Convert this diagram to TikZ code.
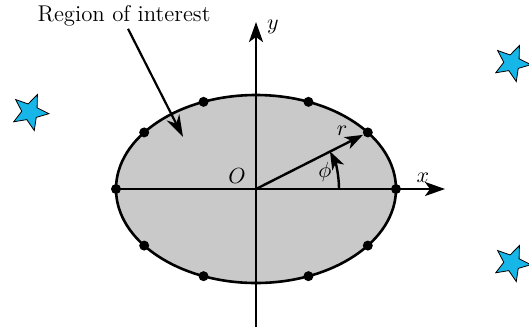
\documentclass[tikz,border=0pt]{standalone}
\usepackage{tikz}
\usetikzlibrary{arrows.meta,positioning,calc,shapes.geometric}
\usepackage{amsmath}
\definecolor{roiGray}{RGB}{200,201,200}
\definecolor{starCyan}{RGB}{22,182,232}
\tikzset{
  %% Region and axes
  roiFill/.style={draw=black, fill=roiGray, line width=1.3pt},
  axisLine/.style={-{Stealth[length=10pt,width=7pt,inset=2.5pt]}, line width=1.3pt},
  %% Vectors and pointers
  vecArr/.style={-{Stealth[length=9pt,width=6.5pt,inset=2.5pt]}, line width=1.2pt},
  ptrArr/.style={-{Stealth[length=11pt,width=7pt,inset=3.5pt]}, line width=1.1pt},
  %% Sample points on the boundary
  bdot/.style={circle, fill=black, inner sep=0pt, minimum size=5pt},
  %% Labels
  lbl/.style={inner sep=1pt, font=\fontsize{11.4}{13}\selectfont},
  %% Far-away sources
  farStar/.style={star, star points=5, star point ratio=2.3, draw=black, thin,
    fill=starCyan, minimum size=19pt, inner sep=0pt, rotate=-95},
}
\begin{document}
\begin{tikzpicture}[x=0.5pt, y=0.5pt]
\useasboundingbox (0,0) rectangle (529,329);

%% Origin and region of interest
\coordinate (orig) at (256,140);
\draw[roiFill] (orig) ellipse [x radius=140, y radius=94];

%% Axes
\coordinate (xFrom) at (116,140);
\coordinate (xTo)   at (445,140);
\coordinate (yFrom) at (256,2);
\coordinate (yTo)   at (256,307);
\draw[axisLine] (xFrom) -- (xTo);
\draw[axisLine] (yFrom) -- (yTo);
\node[lbl] (lblx) at (423,151) {$x$};
\node[lbl] (lbly) at (273,302) {$y$};
\node[lbl] (lblO) at (237,153) {$O$};

%% Boundary points
\foreach \i/\a in {0/0, 1/37, 2/68, 3/112, 4/143, 5/180, 6/217, 7/248, 8/292, 9/323}
  \node[bdot] (d\i) at ([shift={(\a:140 and 94)}]orig) {};

%% Position vector and angle
\draw[vecArr] (orig) -- (d1);
\node[lbl] (lblr) at (342,198) {$r$};
\draw[vecArr] ([shift={(0:83)}]orig) arc[start angle=0, end angle=27, radius=83];
\node[lbl] (lblphi) at (325,157) {$\phi$};

%% Region label
\node[lbl] (roi) at (124,313) {Region of interest};
\coordinate (roiTip) at (183,192);
\draw[ptrArr] ([xshift=2]roi.south) -- (roiTip);

%% Stars
\node[farStar] (starW)  at (30,217) {};
\node[farStar] (starNE) at (512,266) {};
\node[farStar] (starSE) at (512,66) {};

\end{tikzpicture}
\end{document}
